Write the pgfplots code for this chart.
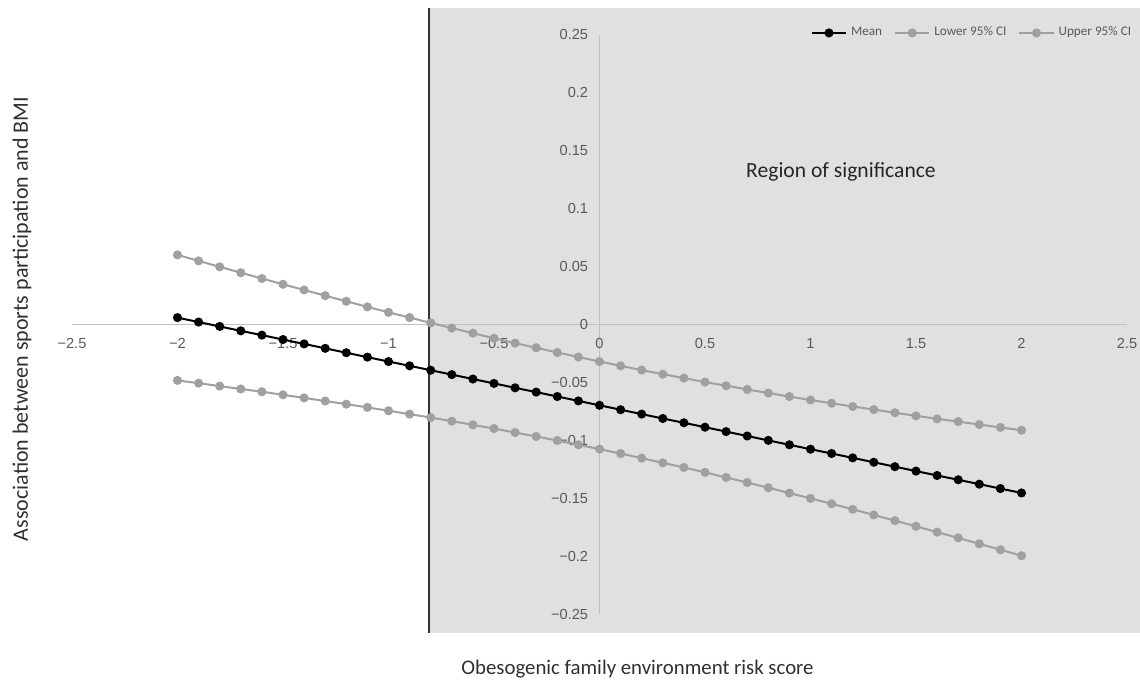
\documentclass[border=0pt]{standalone}
\usepackage{pgfplots}
\usepackage{pgfplotstable}
\pgfplotsset{compat=1.18}
\usepackage{fontspec}
\setmainfont{Carlito}
\newfontfamily\arialf{Liberation Sans}
\definecolor{tickgray}{HTML}{595959}
\definecolor{ser}{HTML}{A0A0A0}
\definecolor{regfill}{HTML}{E0E0E0}
\definecolor{axgray}{HTML}{C0C0C0}
\definecolor{titlegray}{HTML}{303030}

\pgfplotstableread{
x     mean     lower    upper
-2.0  0.0059  -0.0483   0.0601
-1.9  0.0021  -0.0507   0.0549
-1.8 -0.0017  -0.0532   0.0498
-1.7 -0.0055  -0.0557   0.0447
-1.6 -0.0092  -0.0581   0.0397
-1.5 -0.0130  -0.0607   0.0347
-1.4 -0.0168  -0.0634   0.0298
-1.3 -0.0206  -0.0661   0.0249
-1.2 -0.0244  -0.0688   0.0200
-1.1 -0.0282  -0.0716   0.0152
-1.0 -0.0320  -0.0745   0.0105
-0.9 -0.0357  -0.0774   0.0060
-0.8 -0.0395  -0.0804   0.0014
-0.7 -0.0433  -0.0835  -0.0031
-0.6 -0.0471  -0.0867  -0.0075
-0.5 -0.0509  -0.0899  -0.0119
-0.4 -0.0547  -0.0933  -0.0161
-0.3 -0.0584  -0.0967  -0.0201
-0.2 -0.0622  -0.1002  -0.0242
-0.1 -0.0660  -0.1039  -0.0281
 0.0 -0.0698  -0.1076  -0.0320
 0.1 -0.0736  -0.1115  -0.0357
 0.2 -0.0774  -0.1154  -0.0394
 0.3 -0.0812  -0.1195  -0.0429
 0.4 -0.0849  -0.1235  -0.0463
 0.5 -0.0887  -0.1277  -0.0497
 0.6 -0.0925  -0.1321  -0.0529
 0.7 -0.0963  -0.1365  -0.0561
 0.8 -0.1001  -0.1410  -0.0592
 0.9 -0.1039  -0.1456  -0.0622
 1.0 -0.1077  -0.1502  -0.0652
 1.1 -0.1114  -0.1548  -0.0680
 1.2 -0.1152  -0.1596  -0.0708
 1.3 -0.1190  -0.1645  -0.0735
 1.4 -0.1228  -0.1694  -0.0762
 1.5 -0.1266  -0.1743  -0.0789
 1.6 -0.1304  -0.1793  -0.0815
 1.7 -0.1341  -0.1843  -0.0839
 1.8 -0.1379  -0.1894  -0.0864
 1.9 -0.1417  -0.1945  -0.0889
 2.0 -0.1455  -0.1997  -0.0913
}\data

\begin{document}
\begin{tikzpicture}
\begin{axis}[
  scale only axis, width=527.5pt, height=289.5pt,
  xmin=-2.5, xmax=2.5, ymin=-0.25, ymax=0.25,
  axis lines=middle,
  axis line style={axgray, line width=0.8pt, -},
  hide obscured x ticks=false, hide obscured y ticks=false,
  clip=false, set layers,
  major tick length=0pt,
  xtick={-2.5,-2,-1.5,-1,-0.5,0,0.5,1,1.5,2,2.5},
  xticklabels={−2.5,−2,−1.5,−1,−0.5,0,0.5,1,1.5,2,2.5},
  ytick={-0.25,-0.2,-0.15,-0.1,-0.05,0,0.05,0.1,0.15,0.2,0.25},
  yticklabels={−0.25,−0.2,−0.15,−0.1,−0.05,0,0.05,0.1,0.15,0.2,0.25},
  tick label style={font=\arialf\fontsize{7.3}{8}\selectfont, text=tickgray, inner sep=0pt},
  xticklabel style={anchor=center, yshift=-9.5pt},
  yticklabel style={anchor=east, xshift=-5.5pt},
  xlabel={Obesogenic family environment risk score},
  ylabel={Association between sports participation and BMI},
  xlabel style={at={(axis description cs:0.536,-0.095)}, anchor=center, font=\fontsize{10.4}{12}\selectfont, text=titlegray},
  ylabel style={at={(axis description cs:-0.0474,0.5095)}, anchor=center, rotate=90, font=\fontsize{11}{13}\selectfont, text=titlegray},
  legend columns=3,
  legend style={at={(axis description cs:0.700,1.0035)}, anchor=west, draw=none, fill=none,
    font=\fontsize{6.6}{8}\selectfont, text=tickgray, inner sep=0pt,
    /tikz/every even column/.append style={column sep=4pt}},
  legend cell align=left,
]
\begin{pgfonlayer}{axis background}
\fill[regfill] (axis cs:-0.808,-0.266) rectangle (axis cs:2.57,0.273);
\draw[line width=1pt, black!80] (axis cs:-0.808,-0.266) -- (axis cs:-0.808,0.273);
\end{pgfonlayer}
\addplot[black, line width=1pt, mark=*, mark size=1.75pt, mark options={fill=black, draw=black}] table[x=x, y=mean] {\data};
\addlegendentry{Mean}
\addplot[ser, line width=1pt, mark=*, mark size=1.75pt, mark options={fill=ser, draw=ser}] table[x=x, y=lower] {\data};
\addlegendentry{Lower 95\% CI}
\addplot[ser, line width=1pt, mark=*, mark size=1.75pt, mark options={fill=ser, draw=ser}] table[x=x, y=upper] {\data};
\addlegendentry{Upper 95\% CI}
\node[font=\fontsize{10.8}{12}\selectfont, text=black!85] at (axis cs:1.1445,0.1317) {Region of significance};
\coordinate (bbll) at (axis cs:-2.8412,-0.307);
\coordinate (bbur) at (axis cs:2.5616,0.2802);
\end{axis}
\pgfresetboundingbox
\path[use as bounding box] (bbll) rectangle (bbur);
\end{tikzpicture}
\end{document}
